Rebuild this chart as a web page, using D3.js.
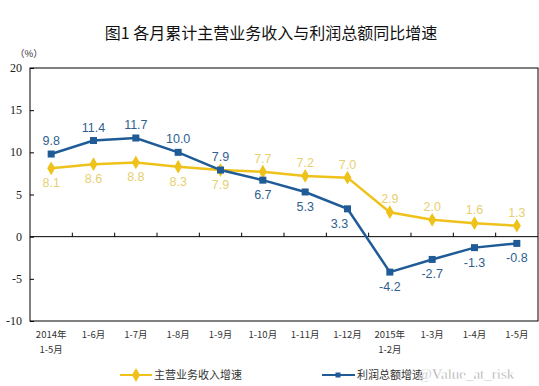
<!DOCTYPE html>
<html>
<head>
<meta charset="utf-8">
<title>图1 各月累计主营业务收入与利润总额同比增速</title>
<script src="https://d3js.org/d3.v7.min.js"></script>
<style>
  body { margin: 0; background: #fff; }
  svg { display: block; }
  .cjk { font-family: "Noto Sans CJK SC", sans-serif; }
</style>
</head>
<body>
<script>
// 数据
var categories = ["2014年|1-5月", "1-6月", "1-7月", "1-8月", "1-9月", "1-10月",
                  "1-11月", "1-12月", "2015年|1-2月", "1-3月", "1-4月", "1-5月"];
var revenue = [8.1, 8.6, 8.8, 8.3, 7.9, 7.7, 7.2, 7.0, 2.9, 2.0, 1.6, 1.3];
var profit = [9.8, 11.4, 11.7, 10.0, 7.9, 6.7, 5.3, 3.3, -4.2, -2.7, -1.3, -0.8];
var yTicks = [20, 15, 10, 5, 0, -5, -10];
// 标签在点上方(-1)或下方(1)
var revenuePos = [1, 1, 1, 1, 1, -1, -1, -1, -1, -1, -1, -1];
var profitPos = [-1, -1, -1, -1, -1, 1, 1, 1, 1, 1, 1, 1];

var W = 539, H = 386;
var pL = 30, pR = 538, pT = 68, pB = 321;
var yellow = "#EEC21A", yellowText = "#E6CF70";
var blue = "#1F5B96", blueText = "#2F5F8F";

var svg = d3.select("body").append("svg")
    .attr("width", W).attr("height", H);

var x = d3.scaleBand().domain(d3.range(categories.length)).range([pL, pR]);
var y = d3.scaleLinear().domain([-10, 20]).range([pB, pT]);
var cx = function(i) { return x(i) + x.bandwidth() / 2; };

// 标题
svg.append("text").attr("class", "cjk")
    .attr("x", 271).attr("y", 39)
    .attr("text-anchor", "middle")
    .attr("font-size", 16).attr("font-weight", 400).attr("fill", "#111")
    .text("图1  各月累计主营业务收入与利润总额同比增速");

svg.append("text").attr("class", "cjk")
    .attr("x", 15).attr("y", 57)
    .attr("font-size", 9.5).attr("fill", "#333")
    .text("（%）");

// 边框
svg.append("rect")
    .attr("x", pL).attr("y", pT)
    .attr("width", pR - pL).attr("height", pB - pT)
    .attr("fill", "none").attr("stroke", "#000").attr("stroke-width", 1);

// Y轴
var yAxis = svg.append("g")
    .attr("transform", "translate(" + pL + ",0)")
    .call(d3.axisRight(y).tickValues(yTicks).tickSize(4).tickFormat(""));
yAxis.select(".domain").remove();
yAxis.selectAll("line").attr("stroke", "#000");
svg.append("g").selectAll("text")
    .data(yTicks).enter().append("text")
    .attr("x", pL - 8).attr("y", function(d) { return y(d) + 4; })
    .attr("text-anchor", "end")
    .attr("font-family", "Liberation Serif, serif")
    .attr("font-size", 12).attr("fill", "#222")
    .text(function(d) { return d; });

// 零线和刻度
svg.append("line")
    .attr("x1", pL).attr("x2", pR)
    .attr("y1", y(0)).attr("y2", y(0))
    .attr("stroke", "#000").attr("stroke-width", 1);
svg.append("g").selectAll("line")
    .data(d3.range(1, categories.length)).enter().append("line")
    .attr("x1", function(i) { return x(i); })
    .attr("x2", function(i) { return x(i); })
    .attr("y1", y(0)).attr("y2", y(0) - 4)
    .attr("stroke", "#000");

// X轴标签
var xl = svg.append("g").selectAll("text")
    .data(categories).enter().append("text")
    .attr("class", "cjk")
    .attr("text-anchor", "middle")
    .attr("font-size", 9.5).attr("fill", "#333");
xl.each(function(d, i) {
    var parts = d.split("|");
    var t = d3.select(this);
    parts.forEach(function(p, k) {
        t.append("tspan").attr("x", cx(i)).attr("y", 338 + k * 15).text(p);
    });
});

// 折线
var line = d3.line()
    .x(function(d, i) { return cx(i); })
    .y(function(d) { return y(d); });

svg.append("path").datum(revenue)
    .attr("d", line).attr("fill", "none")
    .attr("stroke", yellow).attr("stroke-width", 2.5);
svg.append("path").datum(profit)
    .attr("d", line).attr("fill", "none")
    .attr("stroke", blue).attr("stroke-width", 2.5);

// 标记
var diamond = d3.symbol().type(d3.symbolDiamond).size(55);
svg.append("g").selectAll("path")
    .data(revenue).enter().append("path")
    .attr("d", diamond)
    .attr("transform", function(d, i) { return "translate(" + cx(i) + "," + y(d) + ")"; })
    .attr("fill", yellow);
svg.append("g").selectAll("rect")
    .data(profit).enter().append("rect")
    .attr("x", function(d, i) { return cx(i) - 3.5; })
    .attr("y", function(d) { return y(d) - 3.5; })
    .attr("width", 7).attr("height", 7)
    .attr("fill", blue);

// 数据标签
function labels(data, pos, color, dx) {
    svg.append("g").selectAll("text")
        .data(data).enter().append("text")
        .attr("x", function(d, i) { return cx(i) + (dx[i] || 0); })
        .attr("y", function(d, i) { return y(d) + (pos[i] > 0 ? 19 : -9); })
        .attr("text-anchor", "middle")
        .attr("font-family", "Liberation Sans, Arial, sans-serif")
        .attr("font-size", 12.5).attr("fill", color)
        .text(function(d) { return d.toFixed(1); });
}
labels(revenue, revenuePos, yellowText, {});
labels(profit, profitPos, blueText, {7: -8});

// 图例
var lg = svg.append("g").attr("class", "cjk");
lg.append("line").attr("x1", 120).attr("x2", 152).attr("y1", 375).attr("y2", 375)
    .attr("stroke", yellow).attr("stroke-width", 2);
lg.append("path").attr("d", diamond)
    .attr("transform", "translate(136,375)").attr("fill", yellow);
lg.append("text").attr("x", 154).attr("y", 379)
    .attr("font-size", 11).attr("fill", "#333").text("主营业务收入增速");
lg.append("line").attr("x1", 322).attr("x2", 355).attr("y1", 375).attr("y2", 375)
    .attr("stroke", blue).attr("stroke-width", 2);
lg.append("rect").attr("x", 335.5).attr("y", 372.5).attr("width", 5).attr("height", 5)
    .attr("fill", blue);
lg.append("text").attr("x", 357).attr("y", 379)
    .attr("font-size", 11).attr("fill", "#333").text("利润总额增速");

// 水印
svg.append("text")
    .attr("x", 418).attr("y", 379)
    .attr("font-family", "Liberation Serif, serif")
    .attr("font-size", 15).attr("fill", "#999")
    .attr("stroke", "#fff").attr("stroke-width", 0.4)
    .text("@Value_at_risk");
</script>
</body>
</html>
